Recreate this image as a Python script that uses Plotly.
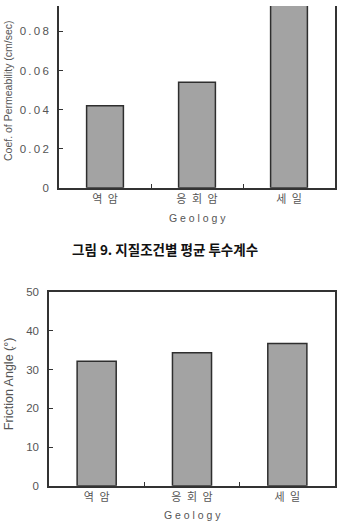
import plotly.graph_objects as go

categories = ["역\u2002암", "응\u2002회\u2002암", "세\u2002일"]
permeability = [0.042, 0.054, 0.100]
friction_angle = [32.1, 34.3, 36.7]
perm_ticks = [0, 0.02, 0.04, 0.06, 0.08]
perm_ticktext = ["0", "0\u2009.\u20090\u20092", "0\u2009.\u20090\u20094", "0\u2009.\u20090\u20096", "0\u2009.\u20090\u20098"]
fric_ticks = [0, 10, 20, 30, 40, 50]

W, H = 342, 524
def px(x): return x / W
def py(y): return 1 - y / H

BAR_FILL = "#a3a3a3"
BAR_LINE = "#2e2e2e"
AX = "#333333"
TXT = "#555555"
NUM_FONT = dict(family="Liberation Sans, Arial", size=11.5, color=TXT)
KO_FONT = dict(family="Noto Sans CJK KR", size=11, color=TXT)

fig = go.Figure()
fig.add_trace(go.Bar(x=categories, y=permeability, width=0.4,
                     marker=dict(color=BAR_FILL, line=dict(color=BAR_LINE, width=1.5)),
                     xaxis="x", yaxis="y", showlegend=False))
fig.add_trace(go.Bar(x=categories, y=friction_angle, width=0.41,
                     marker=dict(color=BAR_FILL, line=dict(color=BAR_LINE, width=1.5)),
                     xaxis="x2", yaxis="y2", showlegend=False))

xcommon = dict(type="category", showgrid=False, showline=True, linecolor=AX, linewidth=1.5,
               ticks="inside", ticklen=4, tickcolor=AX, tickson="boundaries",
               tickfont=KO_FONT, zeroline=False)
ycommon = dict(showgrid=False, showline=True, linecolor=AX, linewidth=1.5,
               ticks="inside", ticklen=4, tickcolor=AX, tickfont=NUM_FONT,
               zeroline=False, mirror=True, ticklabelstandoff=6)

fig.update_layout(
    width=W, height=H, margin=dict(l=0, r=0, t=0, b=0),
    paper_bgcolor="white", plot_bgcolor="white",
    xaxis=dict(domain=[px(59), px(335)], anchor="y", mirror=False, **xcommon),
    yaxis=dict(domain=[py(186), 1.0], anchor="x", range=[0, 0.093],
               tickvals=perm_ticks, ticktext=perm_ticktext, **ycommon),
    xaxis2=dict(domain=[px(49), px(335)], anchor="y2", mirror=True, **xcommon),
    yaxis2=dict(domain=[py(491), py(292.7)], anchor="x2", range=[0, 50],
                tickvals=fric_ticks, **ycommon),
    bargap=0.6,
)

ann = [
    dict(text="Coef. of Permeability (cm/sec)", x=px(8), y=py(87), textangle=-90,
         font=dict(family="Liberation Sans, Arial", size=10.5, color=TXT)),
    dict(text="G e o l o g y", x=px(197), y=py(217),
         font=dict(family="Liberation Sans, Arial", size=10.5, color=TXT)),
    dict(text="<b>그림 9. 지질조건별 평균 투수계수</b>", x=px(165), y=py(249),
         font=dict(family="Noto Sans CJK KR", size=13.5, color="#111111")),
    dict(text="Friction Angle (°)", x=px(9), y=py(387), textangle=-90,
         font=dict(family="Liberation Sans, Arial", size=12.5, color=TXT)),
    dict(text=".", x=px(12.5), y=py(346),
         font=dict(family="Liberation Sans, Arial", size=10, color=TXT)),
    dict(text="G e o l o g y", x=px(192), y=py(521),
         font=dict(family="Liberation Sans, Arial", size=10.5, color=TXT)),
]
for a in ann:
    a.update(xref="paper", yref="paper", showarrow=False, xanchor="center", yanchor="middle")
fig.update_layout(annotations=ann)

fig.write_html("out.html")
